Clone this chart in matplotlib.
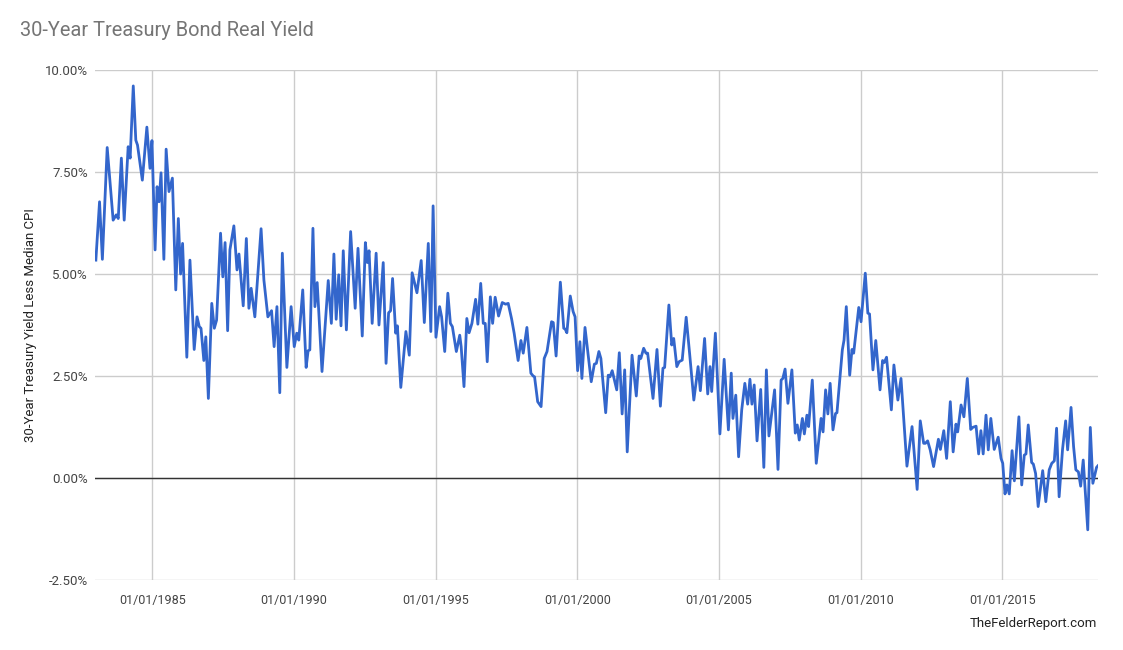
import matplotlib
matplotlib.use('Agg')
import matplotlib.pyplot as plt

plt.rcParams['font.family'] = ['Roboto', 'DejaVu Sans']

# decimal years and real yield (%)
years = [
    1983.01, 1983.14, 1983.24, 1983.41, 1983.62, 1983.73, 1983.80, 1983.91, 1984.01, 1984.15,
    1984.22, 1984.33, 1984.42, 1984.48, 1984.65, 1984.81, 1984.92, 1984.99, 1985.10, 1985.17,
    1985.24, 1985.31, 1985.41, 1985.49, 1985.59, 1985.71, 1985.83, 1985.92, 1986.00, 1986.07,
    1986.22, 1986.33, 1986.48, 1986.58, 1986.66, 1986.72, 1986.82, 1986.89, 1986.98, 1987.10,
    1987.19, 1987.27, 1987.41, 1987.49, 1987.57, 1987.66, 1987.74, 1987.88, 1987.99, 1988.06,
    1988.21, 1988.32, 1988.41, 1988.49, 1988.62, 1988.84, 1988.94, 1989.08, 1989.21, 1989.30,
    1989.40, 1989.50, 1989.59, 1989.75, 1989.90, 1990.01, 1990.10, 1990.17, 1990.31, 1990.43,
    1990.50, 1990.56, 1990.67, 1990.74, 1990.82, 1990.99, 1991.21, 1991.32, 1991.41, 1991.49,
    1991.58, 1991.66, 1991.74, 1991.85, 1992.00, 1992.16, 1992.26, 1992.41, 1992.52, 1992.59,
    1992.65, 1992.76, 1992.90, 1993.00, 1993.15, 1993.25, 1993.34, 1993.41, 1993.48, 1993.59,
    1993.65, 1993.77, 1993.95, 1994.07, 1994.17, 1994.34, 1994.49, 1994.60, 1994.74, 1994.83,
    1994.91, 1995.01, 1995.14, 1995.21, 1995.32, 1995.43, 1995.52, 1995.59, 1995.73, 1995.85,
    1995.90, 1996.00, 1996.10, 1996.18, 1996.28, 1996.41, 1996.49, 1996.59, 1996.68, 1996.75,
    1996.82, 1996.93, 1997.01, 1997.10, 1997.22, 1997.35, 1997.47, 1997.56, 1997.68, 1997.77,
    1997.91, 1998.01, 1998.09, 1998.22, 1998.36, 1998.44, 1998.49, 1998.60, 1998.72, 1998.83,
    1998.93, 1999.09, 1999.15, 1999.25, 1999.40, 1999.52, 1999.57, 1999.63, 1999.75, 1999.85,
    1999.92, 2000.01, 2000.09, 2000.16, 2000.27, 2000.49, 2000.60, 2000.67, 2000.76, 2000.83,
    2001.00, 2001.09, 2001.15, 2001.23, 2001.39, 2001.48, 2001.58, 2001.67, 2001.76, 2001.93,
    2002.08, 2002.18, 2002.24, 2002.34, 2002.42, 2002.48, 2002.67, 2002.81, 2002.93, 2003.02,
    2003.08, 2003.23, 2003.33, 2003.40, 2003.51, 2003.59, 2003.70, 2003.84, 2003.96, 2004.11,
    2004.26, 2004.34, 2004.49, 2004.60, 2004.68, 2004.74, 2004.87, 2005.03, 2005.18, 2005.33,
    2005.43, 2005.49, 2005.59, 2005.69, 2005.80, 2005.91, 2006.01, 2006.09, 2006.16, 2006.24,
    2006.34, 2006.47, 2006.58, 2006.67, 2006.76, 2006.96, 2007.08, 2007.19, 2007.25, 2007.33,
    2007.43, 2007.57, 2007.69, 2007.76, 2007.83, 2007.94, 2008.01, 2008.10, 2008.16, 2008.29,
    2008.43, 2008.60, 2008.67, 2008.76, 2008.84, 2008.92, 2009.02, 2009.11, 2009.16, 2009.35,
    2009.41, 2009.49, 2009.61, 2009.69, 2009.75, 2009.93, 2010.01, 2010.16, 2010.25, 2010.31,
    2010.43, 2010.53, 2010.68, 2010.77, 2010.83, 2010.91, 2011.08, 2011.17, 2011.31, 2011.42,
    2011.63, 2011.81, 2011.99, 2012.10, 2012.22, 2012.28, 2012.36, 2012.45, 2012.57, 2012.74,
    2012.81, 2012.93, 2013.03, 2013.16, 2013.26, 2013.36, 2013.42, 2013.54, 2013.64, 2013.76,
    2013.88, 2013.95, 2014.07, 2014.16, 2014.24, 2014.32, 2014.42, 2014.50, 2014.59, 2014.71,
    2014.85, 2014.95, 2015.01, 2015.09, 2015.16, 2015.24, 2015.34, 2015.42, 2015.58, 2015.68,
    2015.77, 2015.83, 2015.91, 2016.03, 2016.09, 2016.17, 2016.26, 2016.42, 2016.53, 2016.65,
    2016.74, 2016.83, 2016.91, 2017.00, 2017.12, 2017.23, 2017.30, 2017.42, 2017.51, 2017.59,
    2017.68, 2017.76, 2017.85, 2018.01, 2018.10, 2018.19, 2018.32, 2018.37,
]
real_yield = [
    5.34, 6.77, 5.36, 8.10, 6.32, 6.45, 6.36, 7.84, 6.32, 8.12,
    7.84, 9.61, 8.28, 8.16, 7.30, 8.60, 7.59, 8.27, 5.59, 7.14,
    6.77, 7.48, 5.36, 8.06, 7.02, 7.35, 4.61, 6.36, 5.00, 5.75,
    2.96, 5.34, 3.15, 3.95, 3.71, 3.67, 2.88, 3.46, 1.95, 4.28,
    3.67, 3.87, 6.00, 4.93, 5.77, 3.61, 5.59, 6.18, 5.10, 5.49,
    4.22, 5.87, 4.16, 4.65, 3.95, 6.11, 4.85, 3.95, 4.10, 3.22,
    4.20, 2.09, 5.51, 2.71, 4.20, 3.22, 3.55, 3.38, 4.61, 2.71,
    3.12, 3.14, 6.12, 4.20, 4.79, 2.61, 4.84, 3.79, 5.49, 3.89,
    4.98, 3.73, 5.57, 3.63, 6.04, 4.16, 5.63, 3.48, 5.77, 5.28,
    5.57, 3.79, 5.51, 3.75, 5.28, 2.81, 4.05, 4.10, 4.89, 3.55,
    3.73, 2.22, 3.59, 3.01, 5.03, 4.54, 5.33, 3.81, 5.75, 3.59,
    6.67, 3.45, 4.20, 3.95, 3.10, 4.53, 3.79, 3.71, 3.10, 3.50,
    3.22, 2.24, 3.91, 3.56, 3.79, 4.38, 3.77, 4.77, 3.79, 3.79,
    2.85, 4.44, 3.79, 4.43, 3.97, 4.30, 4.26, 4.28, 3.90, 3.55,
    2.88, 3.37, 3.06, 3.69, 2.57, 2.50, 2.48, 1.87, 1.75, 2.93,
    3.10, 3.83, 3.81, 2.99, 4.80, 3.67, 3.65, 3.56, 4.46, 4.08,
    3.95, 2.63, 3.34, 2.44, 3.69, 2.36, 2.79, 2.81, 3.10, 2.93,
    1.60, 2.52, 2.48, 2.63, 2.16, 3.07, 1.57, 2.65, 0.64, 3.01,
    2.01, 2.99, 2.93, 3.18, 3.06, 3.06, 1.95, 3.15, 1.76, 2.69,
    2.71, 4.24, 3.26, 3.42, 2.73, 2.85, 2.89, 3.94, 3.06, 1.91,
    2.73, 2.14, 3.42, 2.06, 2.73, 2.12, 3.55, 1.08, 2.91, 1.18,
    2.57, 1.46, 2.03, 0.52, 1.67, 2.32, 1.81, 2.42, 1.81, 2.28,
    0.91, 2.17, 0.26, 2.65, 1.03, 2.16, 0.21, 2.40, 2.44, 2.67,
    1.83, 2.65, 1.10, 1.30, 0.93, 1.46, 1.08, 1.54, 1.26, 2.40,
    0.36, 1.46, 1.13, 2.16, 1.57, 2.32, 1.18, 1.58, 1.60, 3.14,
    3.38, 4.20, 2.52, 3.15, 3.06, 4.18, 3.83, 5.02, 4.04, 4.02,
    2.65, 3.37, 2.16, 2.88, 2.83, 2.96, 1.67, 2.77, 1.91, 2.44,
    0.29, 1.26, -0.28, 1.40, 0.85, 0.85, 0.91, 0.69, 0.28, 0.95,
    0.70, 1.16, 0.48, 1.87, 0.64, 1.32, 1.13, 1.79, 1.50, 2.44,
    1.19, 1.24, 1.27, 0.59, 1.16, 0.59, 1.54, 0.69, 1.46, 0.70,
    1.00, 0.48, 0.36, -0.39, -0.17, -0.39, 0.67, -0.07, 1.50, -0.17,
    0.56, 0.59, 1.30, 0.38, 0.34, 0.11, -0.70, 0.18, -0.58, 0.20,
    0.36, 0.42, 1.22, -0.46, 0.70, 1.40, 0.69, 1.73, 0.77, 0.20,
    0.15, -0.20, 0.44, -1.27, 1.24, -0.13, 0.26, 0.30,
]

x_ticks = [1985, 1990, 1995, 2000, 2005, 2010, 2015]
x_labels = ['01/01/1985', '01/01/1990', '01/01/1995', '01/01/2000',
            '01/01/2005', '01/01/2010', '01/01/2015']
y_ticks = [-2.5, 0, 2.5, 5, 7.5, 10]

fig = plt.figure(figsize=(11.23, 6.5), dpi=100)
ax = fig.add_axes([0.0846, 0.1077, 0.8931, 0.7846])

ax.plot(years, real_yield, color='#3366cc', lw=2, solid_joinstyle='round', zorder=3)
ax.axhline(0, color='#333333', lw=1, zorder=2)

ax.set_xlim(1982.98, 2018.37)
ax.set_ylim(-2.5, 10)
ax.set_xticks(x_ticks)
ax.set_xticklabels(x_labels)
ax.set_yticks(y_ticks)
ax.set_yticklabels(['%.2f%%' % v for v in y_ticks])
ax.grid(True, color='#cccccc', lw=1)
ax.set_axisbelow(True)
for s in ax.spines.values():
    s.set_visible(False)
ax.tick_params(length=0, labelsize=9, labelcolor='#444444', pad=10)
ax.tick_params(axis='y', labelsize=9.5, pad=5)

ax.set_ylabel('30-Year Treasury Yield Less Median CPI', fontsize=9.5, color='#222222', labelpad=6)

fig.text(0.018, 0.953, '30-Year Treasury Bond Real Yield', fontsize=14.4, color='#757575', va='center')
fig.text(0.977, 0.041, 'TheFelderReport.com', fontsize=9.5, color='#222222', ha='right', va='center')

fig.savefig('out.png', dpi=100)
